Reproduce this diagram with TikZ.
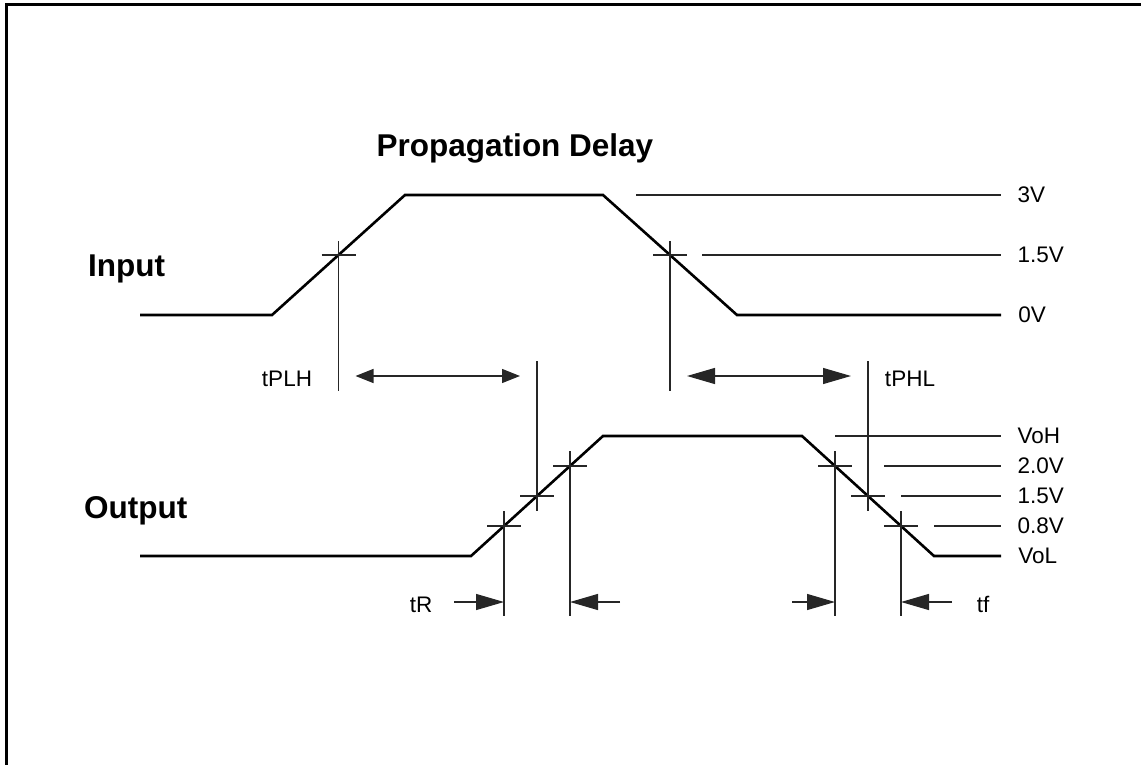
\documentclass[tikz,border=0pt]{standalone}
\usepackage{fontspec}
\setmainfont{Liberation Sans}
\usetikzlibrary{arrows.meta,calc}

\newcommand{\lblfont}{\fontsize{22.5}{27}\selectfont}
\newcommand{\headfont}{\fontsize{31.5}{37}\selectfont\bfseries}

\tikzset{
  wave/.style={line width=2.6pt},
  fine/.style={line width=1.2pt, black!85},
  lvl/.style={anchor=west, inner sep=0pt, xshift=16pt, text=black, font=\lblfont},
  lbl/.style={anchor=base, inner sep=0pt, font=\lblfont},
  head/.style={inner sep=0pt, font=\headfont},
  bigtip/.style={fine, -{Triangle[length=28pt,width=16pt]}},
  bigtips/.style={fine, {Triangle[length=28pt,width=16pt]}-{Triangle[length=28pt,width=16pt]}},
  smalltips/.style={fine, {Triangle[length=18pt,width=14pt]}-{Triangle[length=18pt,width=14pt]}},
}

\begin{document}
\begin{tikzpicture}[x=1pt,y=-1pt]
  \pgfmathsetmacro{\tick}{17}
  \useasboundingbox (0,0) rectangle (1141,765);
  \draw[line width=3pt] (6,765) -- (6,5) -- (1141,5);
  %
  \node[head, anchor=base] (title) at (515,157) {Propagation Delay};
  \node[head, anchor=base west] (input) at (88,276) {Input};
  \node[head, anchor=base west] (output) at (84,518) {Output};
  %
  % input and output waveforms
  \coordinate (i0) at (140,315); \coordinate (i1) at (272,315);
  \coordinate (i2) at (405,195); \coordinate (i3) at (603,195);
  \coordinate (i4) at (737,315); \coordinate (i5) at (1001,315);
  \coordinate (o0) at (140,556); \coordinate (o1) at (471,556);
  \coordinate (o2) at (603,436); \coordinate (o3) at (802,436);
  \coordinate (o4) at (934,556); \coordinate (o5) at (1001,556);
  \draw[wave] (i0) -- (i1) -- (i2) -- (i3) -- (i4) -- (i5) node[lvl] (l0v) {0V};
  \draw[wave] (o0) -- (o1) -- (o2) -- (o3) -- (o4) -- (o5) node[lvl] (lvol) {VoL};
  %
  \coordinate (iR) at ($(i1)!0.5!(i2)$);
  \coordinate (iF) at ($(i3)!0.5!(i4)$);
  \foreach \k/\f in {1/0.25, 2/0.5, 3/0.75} {
    \coordinate (oR\k) at ($(o1)!\f!(o2)$);
    \coordinate (oF\k) at ($(o3)!\f!(o4)$);
  }
  \foreach \c in {iR,iF,oR1,oR2,oR3,oF1,oF2,oF3}
    \draw[fine] ($(\c)+(-\tick,0)$) -- ($(\c)+(\tick,0)$);
  %
  % level lines
  \coordinate (rend) at (1001,0);
  \draw[fine] (636,195) -- (i3 -| rend) node[lvl] (l3v) {3V};
  \draw[fine] ($(iF)+(32,0)$) -- (iF -| rend) node[lvl] (l15a) {1.5V};
  \draw[fine] ($(o3)+(33,0)$) -- (o3 -| rend) node[lvl] (lvoh) {VoH};
  \draw[fine] ($(oF1)+(49,0)$) -- (oF1 -| rend) node[lvl] (l20) {2.0V};
  \draw[fine] ($(oF2)+(33,0)$) -- (oF2 -| rend) node[lvl] (l15b) {1.5V};
  \draw[fine] ($(oF3)+(33,0)$) -- (oF3 -| rend) node[lvl] (l08) {0.8V};
  %
  % timing marks
  \coordinate (inbot) at (0,391);
  \coordinate (midtop) at (0,361);
  \coordinate (outbot) at (0,616);
  \foreach \c in {iR,iF}
    \draw[fine] ($(\c)+(0,-14)$) -- (\c |- inbot);
  \foreach \c in {oR2,oF2}
    \draw[fine] (\c |- midtop) -- ($(\c)+(0,15)$);
  \foreach \c in {oR1,oR3,oF1,oF3}
    \draw[fine] ($(\c)+(0,-15)$) -- (\c |- outbot);
  %
  \coordinate (arrA) at (0,376);
  \coordinate (arrB) at (0,602);
  \draw[smalltips] ($(iR |- arrA)+(17,0)$) -- ($(oR2 |- arrA)+(-17,0)$);
  \draw[bigtips] ($(iF |- arrA)+(17,0)$) -- ($(oF2 |- arrA)+(-17,0)$);
  \draw[bigtip] ($(oR1 |- arrB)+(-50,0)$) -- (oR1 |- arrB);
  \draw[bigtip] ($(oR3 |- arrB)+(50,0)$) -- (oR3 |- arrB);
  \draw[bigtip] ($(oF1 |- arrB)+(-43,0)$) -- (oF1 |- arrB);
  \draw[bigtip] ($(oF3 |- arrB)+(51,0)$) -- (oF3 |- arrB);
  %
  \node[lbl] (tplh) at (287,386) {tPLH};
  \node[lbl] (tphl) at (910,386) {tPHL};
  \node[lbl] (tr) at (421,612) {tR};
  \node[lbl] (tf) at (983,612) {tf};
\end{tikzpicture}
\end{document}
